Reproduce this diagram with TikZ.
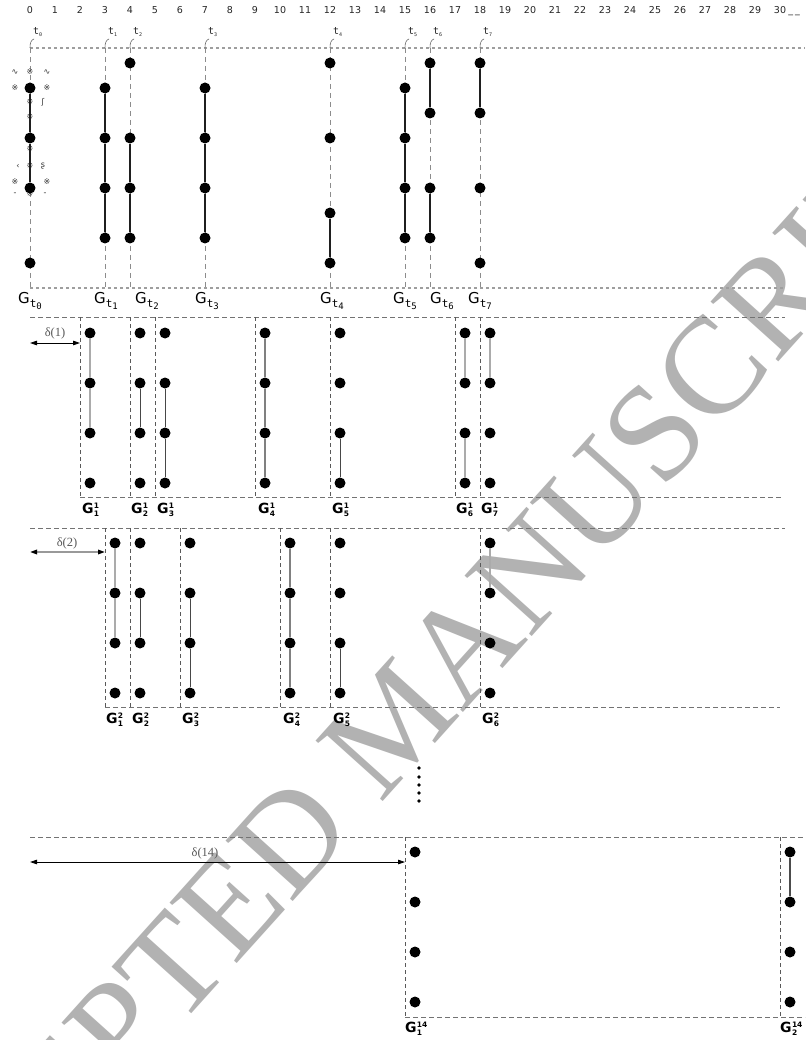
\documentclass[tikz,border=0pt]{standalone}
\usepackage{fontspec}
\setmainfont{Liberation Serif}
\newfontfamily\dv{DejaVu Sans}
\newfontfamily\dvm{DejaVu Sans Mono}
\usetikzlibrary{arrows.meta}
\newcommand\gtlab[1]{{\dv\fontsize{15}{15}\selectfont G}\raisebox{-4.5pt}{\dvm\fontsize{11}{11}\selectfont t\raisebox{-2pt}{\fontsize{9}{9}\selectfont #1}}}
\newcommand\glev[2]{{\dv\bfseries\fontsize{14}{14}\selectfont G}\kern0.3pt{\dv\bfseries\fontsize{7.5}{7.5}\selectfont\rlap{\raisebox{5pt}{#1}}\raisebox{-2.5pt}{#2}}}
\newcommand\tsmall[1]{t\raisebox{-2pt}{\fontsize{5}{5}\selectfont #1}}
\tikzset{
  dot/.style={circle, fill=black, draw=none, inner sep=0pt, minimum size=11pt},
  smalldot/.style={circle, fill=black, draw=none, inner sep=0pt, minimum size=3.6pt},
  topedge/.style={draw=black!88, line width=2.4pt},
  lightedge/.style={draw=black!33, line width=2.5pt},
  thinedge/.style={draw=black!72, line width=1pt},
  midedge/.style={draw=black!50, line width=1.2pt},
  darkedge/.style={draw=black!70, line width=2.5pt},
  tline/.style={draw=black!45, line width=0.8pt, dash pattern=on 5pt off 4pt},
  topline/.style={draw=black!38, line width=1.4pt, dash pattern=on 3pt off 3pt},
  lvline/.style={draw=black!55, line width=0.8pt, dash pattern=on 5pt off 3pt},
  boxline/.style={draw=black!65, line width=0.7pt, dash pattern=on 4pt off 3pt},
  ruler/.style={font=\dv\fontsize{9.5}{10}\selectfont, text=black!85, inner sep=0pt},
  tlab/.style={font=\dvm\fontsize{10}{10}\selectfont, text=black!85, inner sep=0pt, anchor=base west},
  hook/.style={draw=black!60, line width=0.6pt},
  glab/.style={inner sep=0pt, anchor=north west},
  dlab/.style={font=\fontsize{12.5}{12.5}\selectfont, text=black!65, inner sep=0pt},
  darrow/.style={{Triangle[length=7pt,width=4.5pt]}-{Triangle[length=7pt,width=4.5pt]}, line width=0.8pt, draw=black},
  garrow/.style={{Triangle[length=7pt,width=4.5pt,color=black]}-{Triangle[length=7pt,width=4.5pt,color=black]}, line width=1.6pt, draw=black!40},
  glyph/.style={font=\dv\fontsize{8}{8}\selectfont, text=black!80, inner sep=0pt},
  wmark/.style={font=\fontsize{138}{138}\selectfont, text=black!30, inner sep=0pt},
}
\begin{document}
\begin{tikzpicture}[x=1pt,y=-1pt]
\useasboundingbox (0,0) rectangle (805,1040);
\fill[white] (0,0) rectangle (805,1040);
% watermark
\begin{scope}
\clip (0,0) rectangle (805,1040);
\node[wmark, rotate=48, anchor=base west] (wm) at (-120,1360) {ACCEPTED MANUSCRIPT};
\end{scope}
% ruler
\foreach \n in {0,...,30} \node[ruler] (r\n) at ({30+25*\n},10) {\n};
\node[ruler, anchor=base west] (rend) at ([xshift=2pt]r30.base east) {\_\hspace{2pt}\_};
% top section lines
\coordinate (h0a) at (30,48); \coordinate (h0b) at (805,48);
\coordinate (h1a) at (30,288); \coordinate (h1b) at (783,288);
\draw[topline] (h0a) -- (h0b);
\draw[topline] (h1a) -- (h1b);
\foreach \x/\i in {30/0,105/1,130/2,205/3,330/4,405/5,430/6,480/7}{
  \coordinate (tt\i) at (\x,48);
  \coordinate (tb\i) at (\x,288);
  \coordinate (th\i) at ({\x+4},39);
  \draw[tline] (tt\i) -- (tb\i);
  \draw[hook] (tt\i) .. controls ({\x},43) and ({\x+1},40) .. (th\i);
  \node[tlab] (tl\i) at ({\x+3},35) {\tsmall{\i}};
}
% t0 glyph marks
\foreach \gx/\gy/\g [count=\k] in {15/72/{\char"223F},30/72/※,47/72/{\char"223F},15/88/※,47/88/※,18/102/,,30/102/※,43/102/ʃ,30/117/※,30/149/※,18/166/‹,30/166/※,43/166/ʂ,15/182/※,47/182/※,15/194/-,30/194/※,45/194/-}
  \node[glyph] (gl\k) at (\gx,\gy) {\g};
% top dots
\foreach \x/\i/\ys in {30/0/{88,138,188,263},105/1/{88,138,188,238},130/2/{63,138,188,238},205/3/{88,138,188,238},330/4/{63,138,213,263},405/5/{88,138,188,238},430/6/{63,113,188,238},480/7/{63,113,188,263}}
  \foreach \y in \ys \node[dot] (n\i y\y) at (\x,\y) {};
\draw[topedge] (n0y88) -- (n0y138) -- (n0y188);
\draw[topedge] (n1y88) -- (n1y138) -- (n1y188) -- (n1y238);
\draw[topedge] (n2y138) -- (n2y188) -- (n2y238);
\draw[topedge] (n3y88) -- (n3y138) -- (n3y188) -- (n3y238);
\draw[topedge] (n4y213) -- (n4y263);
\draw[topedge] (n5y88) -- (n5y138) -- (n5y188) -- (n5y238);
\draw[topedge] (n6y63) -- (n6y113);
\draw[topedge] (n6y188) -- (n6y238);
\draw[topedge] (n7y63) -- (n7y113);
% top labels
\foreach \gx/\i in {18/0,94/1,135/2,195/3,320/4,393/5,430/6,468/7}
  \node[glab] (gt\i) at (\gx,292) {\gtlab{\i}};
% ---------- level 1 ----------
\coordinate (l1a) at (30,317); \coordinate (l1b) at (785,317);
\coordinate (l1c) at (80,497); \coordinate (l1d) at (783,497);
\draw[lvline] (l1a) -- (l1b);
\draw[lvline] (l1c) -- (l1d);
\foreach \x in {80,130,155,255,330,455,480}{
  \coordinate (b1t\x) at (\x,317); \coordinate (b1b\x) at (\x,497);
  \draw[boxline] (b1t\x) -- (b1b\x);
  \foreach \y in {333,383,433,483} \node[dot] (p1x\x y\y) at ({\x+10},\y) {};
}
\draw[lightedge] (p1x80y333) -- (p1x80y383) -- (p1x80y433);
\draw[thinedge] (p1x130y383) -- (p1x130y433);
\draw[thinedge] (p1x155y383) -- (p1x155y433) -- (p1x155y483);
\draw[midedge] (p1x255y333) -- (p1x255y383) -- (p1x255y433) -- (p1x255y483);
\draw[thinedge] (p1x330y433) -- (p1x330y483);
\draw[lightedge] (p1x455y333) -- (p1x455y383);
\draw[lightedge] (p1x455y433) -- (p1x455y483);
\draw[lightedge] (p1x480y333) -- (p1x480y383);
\foreach \gx/\i in {82/1,131/2,157/3,258/4,332/5,456/6,481/7}
  \node[glab] (g1l\i) at (\gx,503) {\glev{1}{\i}};
\coordinate (d1a) at (30,343);
\draw[darrow] (d1a) -- (b1t80 |- d1a);
\node[dlab] (d1) at (55,333) {δ(1)};
% ---------- level 2 ----------
\coordinate (l2a) at (30,528); \coordinate (l2b) at (785,528);
\coordinate (l2c) at (105,707); \coordinate (l2d) at (780,707);
\draw[lvline] (l2a) -- (l2b);
\draw[lvline] (l2c) -- (l2d);
\foreach \x in {105,130,180,280,330,480}{
  \coordinate (b2t\x) at (\x,528); \coordinate (b2b\x) at (\x,707);
  \draw[boxline] (b2t\x) -- (b2b\x);
  \foreach \y in {543,593,643,693} \node[dot] (p2x\x y\y) at ({\x+10},\y) {};
}
\draw[lightedge] (p2x105y543) -- (p2x105y593) -- (p2x105y643);
\draw[thinedge] (p2x130y593) -- (p2x130y643);
\draw[thinedge] (p2x180y593) -- (p2x180y643) -- (p2x180y693);
\draw[midedge] (p2x280y543) -- (p2x280y593) -- (p2x280y643) -- (p2x280y693);
\draw[thinedge] (p2x330y643) -- (p2x330y693);
\draw[lightedge] (p2x480y543) -- (p2x480y593);
\foreach \gx/\i in {106/1,132/2,182/3,283/4,333/5,482/6}
  \node[glab] (g2l\i) at (\gx,713) {\glev{2}{\i}};
\coordinate (d2a) at (30,552);
\draw[garrow] (d2a) -- (b2t105 |- d2a);
\node[dlab] (d2) at (67,543) {δ(2)};
% ellipsis
\foreach \k/\y in {1/768,2/777,3/785,4/793,5/801} \node[smalldot] (ell\k) at (419,\y) {};
% ---------- level 14 ----------
\coordinate (l3a) at (30,837); \coordinate (l3b) at (805,837);
\coordinate (l3c) at (405,1017); \coordinate (l3d) at (805,1017);
\draw[lvline] (l3a) -- (l3b);
\draw[lvline] (l3c) -- (l3d);
\foreach \x in {405,780}{
  \coordinate (b3t\x) at (\x,837); \coordinate (b3b\x) at (\x,1017);
  \draw[boxline] (b3t\x) -- (b3b\x);
  \foreach \y in {852,902,952,1002} \node[dot] (p3x\x y\y) at ({\x+10},\y) {};
}
\draw[darkedge] (p3x780y852) -- (p3x780y902);
\node[glab] (g3l1) at (405,1022) {\glev{14}{1}};
\node[glab] (g3l2) at (780,1022) {\glev{14}{2}};
\coordinate (d3a) at (30,862);
\draw[darrow] (d3a) -- (b3t405 |- d3a);
\node[dlab] (d3) at (205,853) {δ(14)};
\end{tikzpicture}
\end{document}
